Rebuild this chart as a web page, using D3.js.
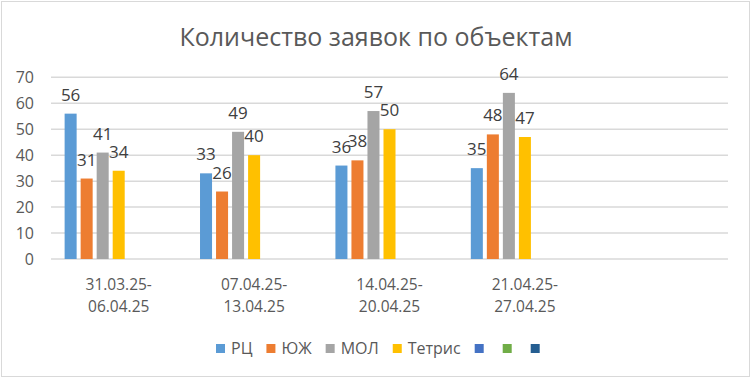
<!DOCTYPE html>
<html><head><meta charset="utf-8">
<script src="https://cdn.jsdelivr.net/npm/d3@7"></script>
<style>body{margin:0;background:#fff;} text{font-family:"Open Sans",sans-serif;}</style>
</head><body><svg id="c" width="752" height="379"></svg>
<script>
const title = "Количество заявок по объектам";
const categories = ["31.03.25-\n06.04.25", "07.04.25-\n13.04.25", "14.04.25-\n20.04.25", "21.04.25-\n27.04.25", ""];
const seriesNames = ["РЦ", "ЮЖ", "МОЛ", "Тетрис", "", "", ""];
const seriesColors = ["#5B9BD5", "#ED7D31", "#A5A5A5", "#FFC000", "#4472C4", "#70AD47", "#255E91"];
const rc = [56, 33, 36, 35];
const yuzh = [31, 26, 38, 48];
const mol = [41, 49, 57, 64];
const tetris = [34, 40, 50, 47];
const yTicks = [0, 10, 20, 30, 40, 50, 60, 70];
const seriesValues = [rc, yuzh, mol, tetris, [], [], []];

const svg = d3.select("#c");
svg.append("rect").attr("x", 0).attr("y", 0).attr("width", 752).attr("height", 379).attr("fill", "#fff");
svg.append("rect").attr("x", 1.5).attr("y", 1.5).attr("width", 748).attr("height", 375)
  .attr("fill", "none").attr("stroke", "#D9D9D9").attr("stroke-width", 1);

const x = d3.scaleBand().domain(categories).range([51, 728]).paddingInner(0).paddingOuter(0);
const xs = d3.scaleBand().domain(d3.range(seriesNames.length)).range([0, x.bandwidth()]).paddingInner(0.25).paddingOuter(0.85);
const y = d3.scaleLinear().domain([0, 70]).range([259, 77.3]);

// gridlines
svg.append("g").selectAll("line").data(yTicks).join("line")
  .attr("x1", 51).attr("x2", 728).attr("y1", d => y(d)).attr("y2", d => y(d))
  .attr("stroke", "#D9D9D9").attr("stroke-width", 1.5);

// y axis
const ya = svg.append("g").attr("transform", "translate(51,0)")
  .call(d3.axisLeft(y).tickValues(yTicks).tickSize(0).tickPadding(17));
ya.select(".domain").remove();
ya.selectAll("text").attr("font-size", 16).attr("fill", "#595959").attr("font-family", "Open Sans");

// bars
seriesValues.forEach((vals, si) => {
  const g = svg.append("g");
  g.selectAll("rect").data(vals).join("rect")
    .attr("x", (d, i) => x(categories[i]) + xs(si))
    .attr("width", xs.bandwidth())
    .attr("y", d => y(d))
    .attr("height", d => y(0) - y(d))
    .attr("fill", seriesColors[si]);
  g.selectAll("text").data(vals).join("text")
    .attr("x", (d, i) => x(categories[i]) + xs(si) + xs.bandwidth() / 2)
    .attr("y", d => y(d) - 13)
    .attr("text-anchor", "middle").attr("font-size", 17).attr("fill", "#404040")
    .text(d => d);
});

// category labels
const cl = svg.append("g");
categories.forEach(c => {
  if (!c) return;
  const lines = c.split("\n");
  const t = cl.append("text").attr("text-anchor", "middle").attr("font-size", 15.5).attr("fill", "#595959");
  lines.forEach((ln, k) => {
    t.append("tspan").attr("x", x(c) + x.bandwidth() / 2).attr("y", 290 + k * 22).text(ln);
  });
});

// title
svg.append("text").attr("x", 376).attr("y", 46).attr("text-anchor", "middle")
  .attr("font-size", 25).attr("fill", "#595959").text(title);

// legend
const lg = svg.append("g");
let lx = 216;
seriesNames.forEach((n, i) => {
  lg.append("rect").attr("x", lx).attr("y", 344).attr("width", 9).attr("height", 9).attr("fill", seriesColors[i]);
  lx += 9;
  if (n) {
    const t = lg.append("text").attr("x", lx + 6).attr("y", 354).attr("font-size", 16).attr("fill", "#595959").text(n);
    lx += 6 + t.node().getComputedTextLength() + 14;
  } else {
    lx += 19;
  }
});
</script></body></html>
